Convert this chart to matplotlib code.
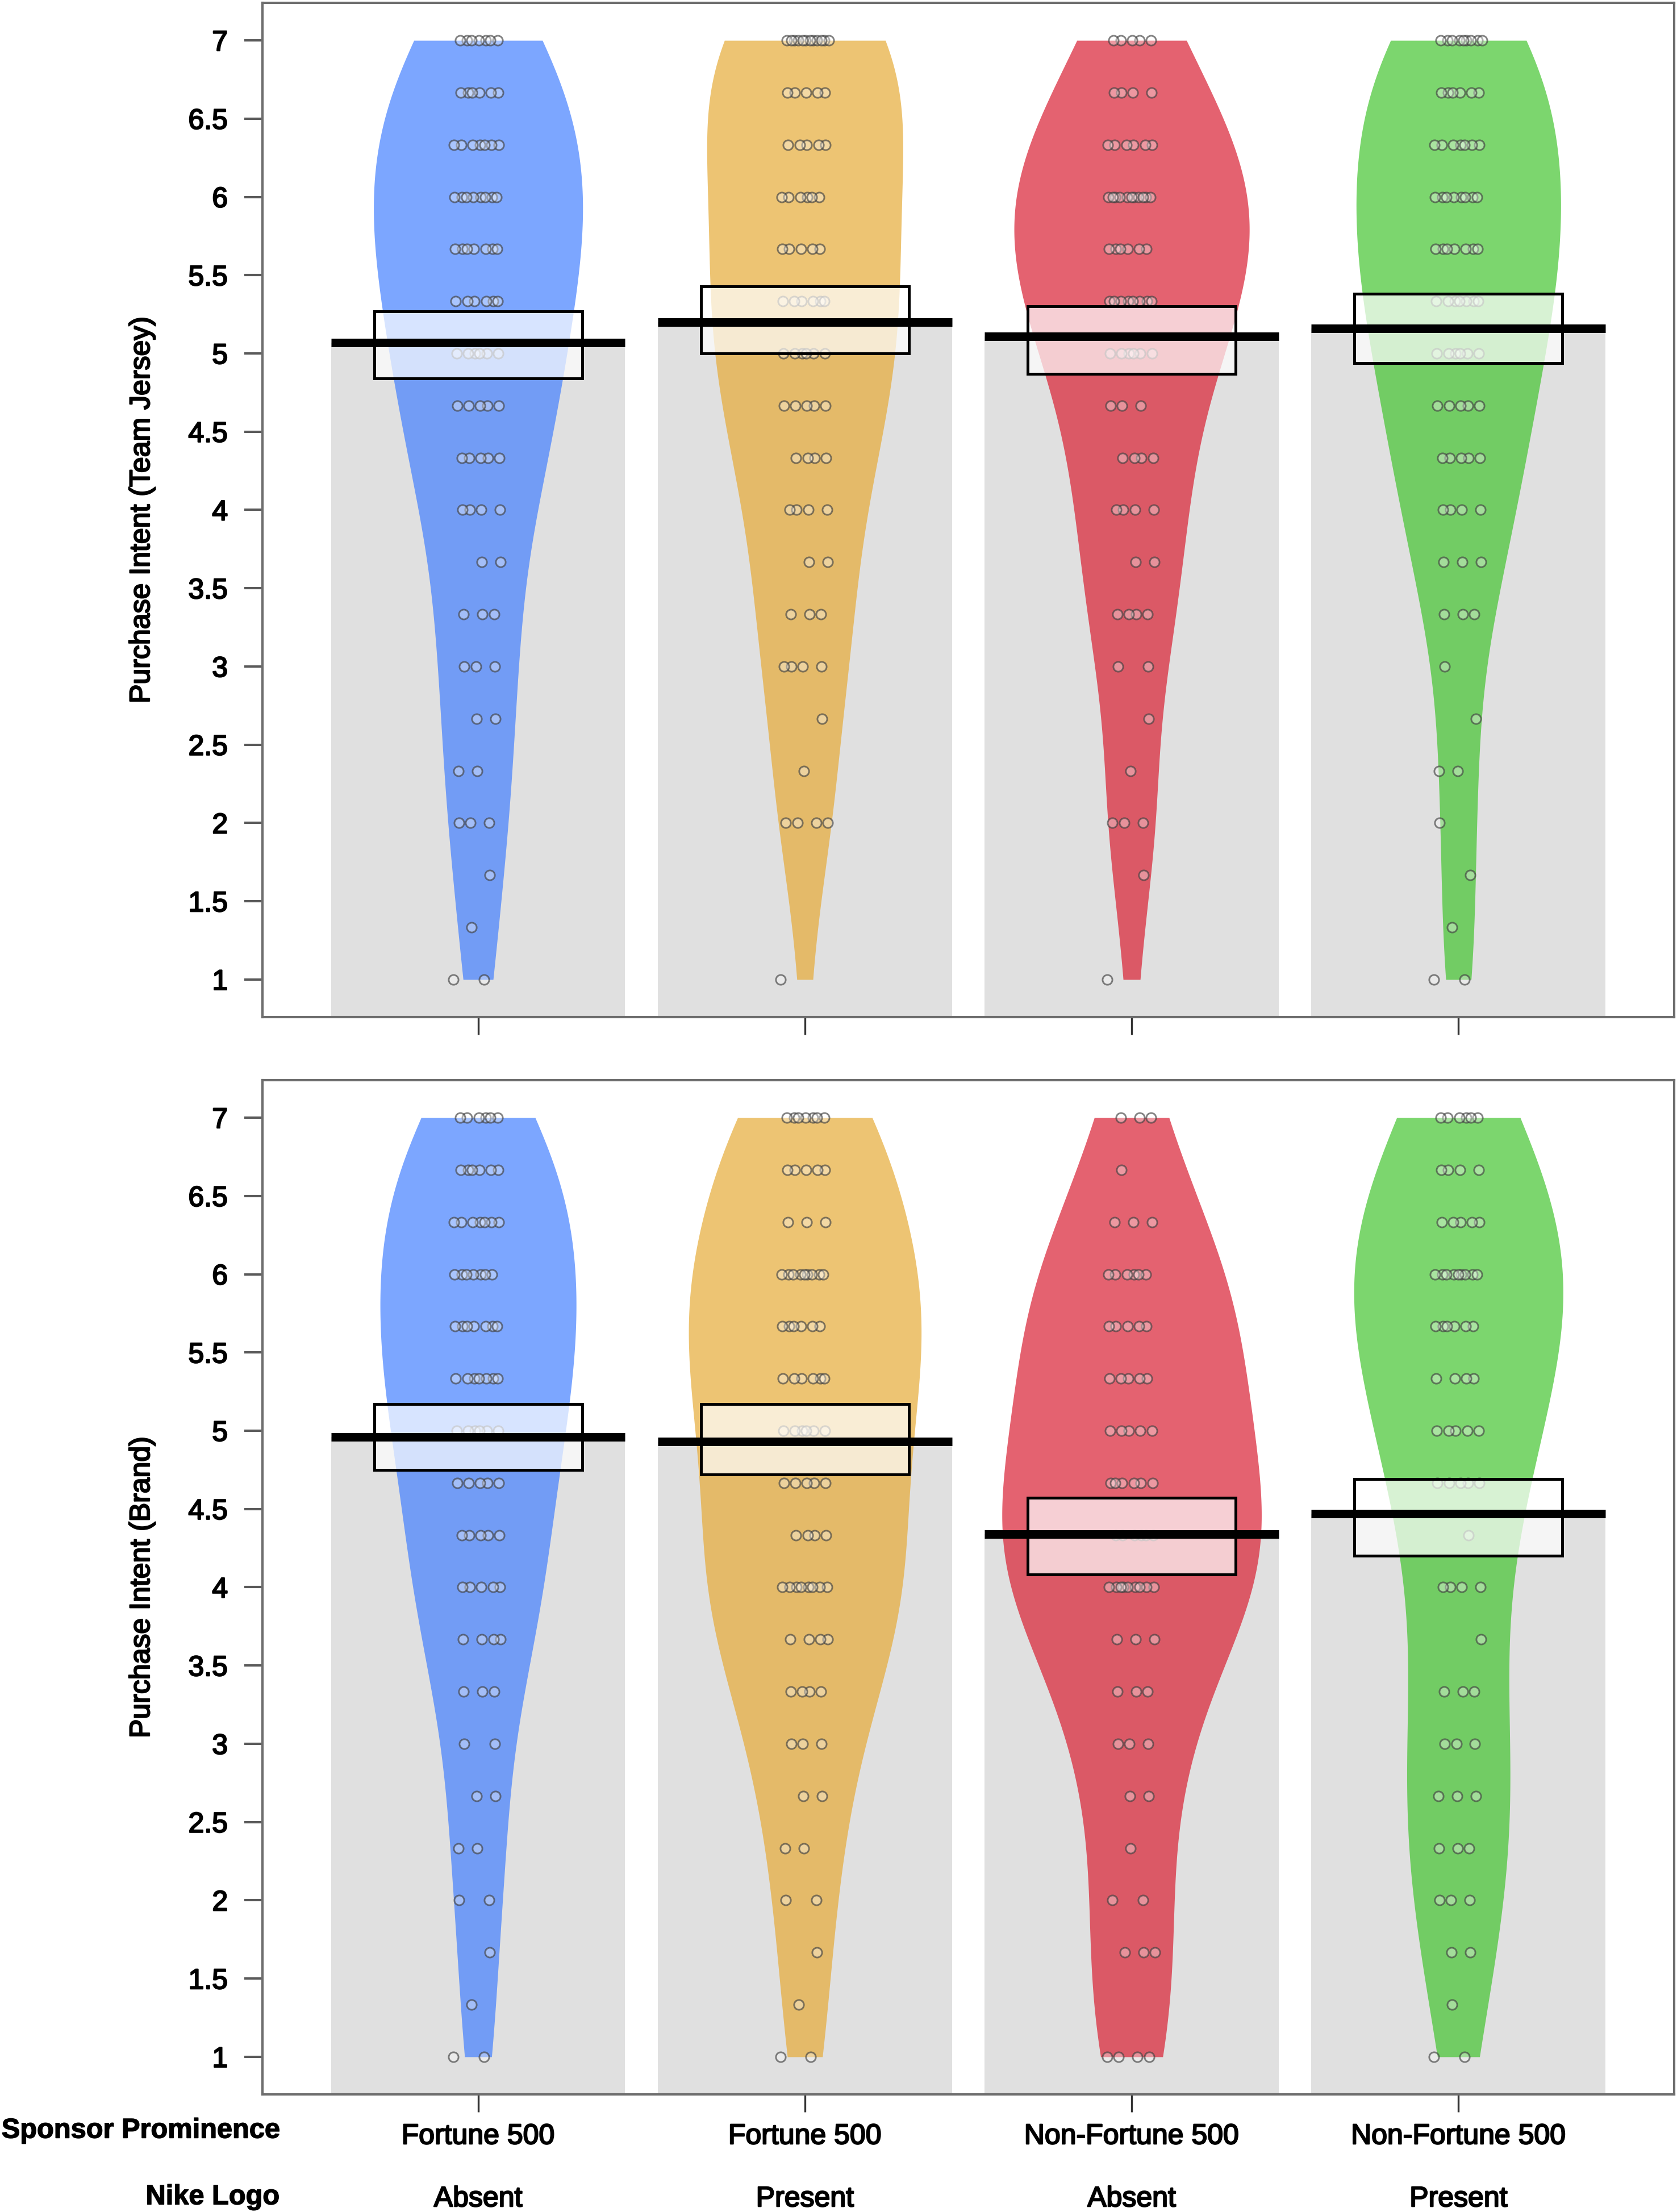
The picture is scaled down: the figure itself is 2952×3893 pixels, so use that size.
"""
Pirate plots of purchase intent by sponsor prominence and Nike logo.
Two panels: Team Jersey (top) and Brand (bottom).
"""

import numpy as np
import matplotlib.pyplot as plt
import matplotlib.patheffects as pe
from matplotlib.patches import Rectangle
from matplotlib.transforms import blended_transform_factory

plt.rcParams['font.family'] = ['Liberation Sans', 'DejaVu Sans']

# response scale (mean of three 7-point items)
levels = [1, 4/3, 5/3, 2, 7/3, 8/3, 3, 10/3, 11/3, 4,
          13/3, 14/3, 5, 16/3, 17/3, 6, 19/3, 20/3, 7]

sponsor_labels = ['Fortune 500', 'Fortune 500', 'Non-Fortune 500', 'Non-Fortune 500']
logo_labels = ['Absent', 'Present', 'Absent', 'Present']
colors = ['#417EFF', '#E6AA34', '#D91C30', '#41C42D']

# number of respondents at each level, one list per group
jersey_counts = [
    [2, 1, 1, 3, 2, 2, 3, 3, 2, 4, 5, 5, 6, 6, 7, 8, 7, 6, 7],
    [1, 0, 0, 4, 1, 1, 4, 3, 2, 4, 4, 5, 6, 6, 5, 6, 5, 5, 12],
    [1, 0, 1, 3, 1, 1, 2, 4, 2, 4, 4, 3, 6, 8, 6, 11, 6, 4, 5],
    [2, 1, 1, 1, 2, 1, 1, 3, 3, 4, 5, 5, 6, 7, 7, 8, 7, 6, 9],
]
brand_counts = [
    [2, 1, 1, 2, 2, 2, 2, 3, 4, 5, 5, 5, 6, 7, 7, 7, 7, 6, 6],
    [2, 1, 1, 2, 2, 2, 3, 4, 4, 8, 4, 5, 6, 6, 6, 9, 3, 5, 7],
    [4, 0, 3, 2, 1, 2, 3, 3, 3, 9, 6, 6, 5, 5, 5, 6, 3, 1, 3],
    [2, 1, 2, 3, 3, 3, 3, 3, 1, 4, 1, 5, 5, 4, 6, 9, 5, 4, 6],
]

# group means and interval bounds
jersey_mean = [5.07, 5.20, 5.11, 5.16]
jersey_lo = [4.84, 5.00, 4.87, 4.94]
jersey_hi = [5.27, 5.43, 5.30, 5.38]

brand_mean = [4.96, 4.93, 4.34, 4.47]
brand_lo = [4.75, 4.72, 4.08, 4.20]
brand_hi = [5.17, 5.17, 4.57, 4.69]

# widest half-width of each bean (x units), as drawn in the original
jersey_bean_width = [0.32, 0.30, 0.36, 0.313]
brand_bean_width = [0.30, 0.356, 0.397, 0.32]

SEMIBOLD = [pe.withStroke(linewidth=0.55, foreground='black')]
HEAVY = [pe.withStroke(linewidth=0.35, foreground='black')]


def expand(counts):
    return np.repeat(np.array(levels), counts)


def kde_cut(x, grid):
    """Gaussian KDE with R's bw.nrd0, evaluated on grid."""
    n = len(x)
    sd = np.std(x, ddof=1)
    iqr = np.subtract(*np.percentile(x, [75, 25]))
    bw = 0.9 * min(sd, iqr / 1.34) * n ** (-0.2)
    z = (grid[:, None] - x[None, :]) / bw
    return np.exp(-0.5 * z ** 2).sum(axis=1) / (n * bw * np.sqrt(2 * np.pi))


def pirate_panel(ax, counts, means, lo, hi, ylabel, bean_width):
    pos = np.arange(1, len(counts) + 1)

    # bars up to the mean
    ax.bar(pos, means, width=0.9, color='#E0E0E0', zorder=1)

    # beans
    for p, c, col, bw_max in zip(pos, counts, colors, bean_width):
        x = expand(c)
        grid = np.linspace(x.min(), x.max(), 512)
        d = kde_cut(x, grid)
        w = d / d.max() * bw_max
        ax.fill_betweenx(grid, p - w, p + w, color=col, alpha=0.69,
                         lw=0, zorder=2)

    # points
    for p, c in zip(pos, counts):
        for j, (lev, k) in enumerate(zip(levels, c)):
            if k == 0:
                continue
            off = ((np.arange(k) * 0.618 + j * 0.37) % 1 - 0.5) * 0.15
            ax.scatter(p + off, np.full(k, lev), s=17,
                       facecolors=(1, 1, 1, 0.35),
                       edgecolors=(0.25, 0.25, 0.25, 0.65),
                       linewidths=0.7, zorder=3)

    # interval boxes
    for p, l, h in zip(pos, lo, hi):
        ax.add_patch(Rectangle((p - 0.318, l), 0.636, h - l,
                               facecolor=(1, 1, 1, 0.7), edgecolor='black',
                               lw=1.2, zorder=4))

    # mean lines
    ax.hlines(means, pos - 0.45, pos + 0.45, color='black', lw=3.6, zorder=5)

    ax.set_xlim(0.34, 4.66)
    ax.set_ylim(0.76, 7.24)
    ax.set_yticks([1, 1.5, 2, 2.5, 3, 3.5, 4, 4.5, 5, 5.5, 6, 6.5, 7])
    ax.set_yticklabels(['1', '1.5', '2', '2.5', '3', '3.5', '4', '4.5',
                        '5', '5.5', '6', '6.5', '7'])
    ax.set_xticks(pos)
    ax.set_xticklabels([])
    ax.tick_params(axis='y', length=7.6, width=1.0, color='#5a5a5a',
                   labelsize=12, pad=7)
    ax.tick_params(axis='x', length=7.4, width=0.8, color='#333333')
    for t in ax.get_yticklabels():
        t.set_path_effects(SEMIBOLD)
    for s in ax.spines.values():
        s.set_color('#6e6e6e')
        s.set_linewidth(1.0)
    ax.set_ylabel(ylabel, fontsize=12, path_effects=SEMIBOLD)
    ax.yaxis.set_label_coords(-0.0853, 0.5)
    ax.yaxis.label.set_va('center')


def main():
    fig = plt.figure(figsize=(2952 / 300, 3893 / 300), dpi=300)
    ax1 = fig.add_axes([0.1565, 0.5402, 0.9983 - 0.1565, 0.99872 - 0.5402])
    ax2 = fig.add_axes([0.1565, 0.05317, 0.9983 - 0.1565, 0.5117 - 0.05317])

    pirate_panel(ax1, jersey_counts, jersey_mean, jersey_lo, jersey_hi,
                 'Purchase Intent (Team Jersey)', jersey_bean_width)
    pirate_panel(ax2, brand_counts, brand_mean, brand_lo, brand_hi,
                 'Purchase Intent (Brand)', brand_bean_width)

    # two-row category labels under the bottom panel
    trans = blended_transform_factory(ax2.transData, ax2.transAxes)
    for i, (s, l) in enumerate(zip(sponsor_labels, logo_labels)):
        ax2.annotate(s, xy=(i + 1, 0), xycoords=trans, xytext=(0, -17.8),
                     textcoords='offset points', ha='center', va='center',
                     fontsize=12, path_effects=SEMIBOLD)
        ax2.annotate(l, xy=(i + 1, 0), xycoords=trans, xytext=(0, -44.2),
                     textcoords='offset points', ha='center', va='center',
                     fontsize=12, path_effects=SEMIBOLD)

    fig.text(492 / 2952, 1 - 3750 / 3893, 'Sponsor Prominence', ha='right',
             va='center', fontsize=11.7, fontweight='bold', path_effects=HEAVY)
    fig.text(492 / 2952, 1 - 3867 / 3893, 'Nike Logo', ha='right',
             va='center', fontsize=11.7, fontweight='bold', path_effects=HEAVY)

    fig.savefig('out.png', dpi=300)
    plt.close(fig)


if __name__ == "__main__":
    main()
